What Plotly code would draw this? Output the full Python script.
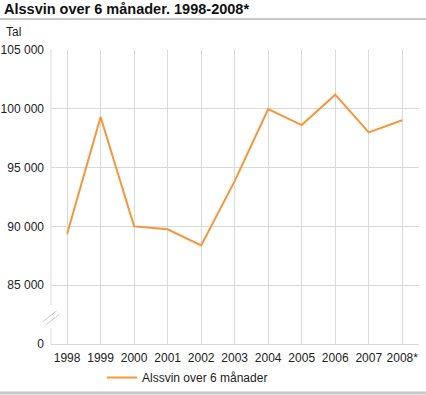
import plotly.graph_objects as go

years = ["1998", "1999", "2000", "2001", "2002", "2003", "2004", "2005", "2006", "2007", "2008*"]
values = [89350, 99300, 90000, 89750, 88380, 93850, 99980, 98620, 101200, 98000, 99030]
series_name = "Alssvin over 6 månader"
ytick_vals = [80000, 85000, 90000, 95000, 100000, 105000]
ytick_text = ["0", "85 000", "90 000", "95 000", "100 000", "105 000"]

W, H = 426, 395
L, R, T, B = 51, 419, 50, 344

def px(x):
    return (x - L) / (R - L)

def py(y):
    return (B - y) / (B - T)

grid = "#d9d9d9"
font = "Liberation Sans, Arial, sans-serif"

fig = go.Figure()
fig.add_trace(go.Scatter(
    x=list(range(len(years))), y=values, mode="lines", name=series_name,
    line=dict(color="#f7953b", width=2), showlegend=True,
))

shapes = [
    dict(type="line", xref="paper", yref="paper", x0=px(0), x1=px(426), y0=py(19), y1=py(19),
         line=dict(color="#c8c8c8", width=2)),
    dict(type="line", xref="paper", yref="paper", x0=px(0), x1=px(426), y0=py(393), y1=py(393),
         line=dict(color="#c8c8c8", width=3)),
    dict(type="line", xref="paper", yref="paper", x0=0, x1=0, y0=py(344), y1=py(328),
         line=dict(color=grid, width=1)),
    dict(type="line", xref="paper", yref="paper", x0=0, x1=0, y0=py(305), y1=py(50),
         line=dict(color=grid, width=1)),
    dict(type="line", xref="paper", yref="paper", x0=px(43), x1=px(56.5), y0=py(321.5), y1=py(311),
         line=dict(color="#c8c8c8", width=1)),
    dict(type="line", xref="paper", yref="paper", x0=px(45.5), x1=px(59), y0=py(325), y1=py(314.5),
         line=dict(color="#c8c8c8", width=1)),
]

fig.update_layout(
    width=W, height=H,
    margin=dict(l=L, r=W - R, t=T, b=H - B, pad=0, autoexpand=False),
    paper_bgcolor="white", plot_bgcolor="white",
    font=dict(family=font, size=12, color="#222"),
    showlegend=True,
    legend=dict(orientation="h", x=px(102), y=py(363), xanchor="left", yanchor="top",
                font=dict(size=12, color="#222"), bgcolor="rgba(0,0,0,0)"),
    shapes=shapes,
    annotations=[
        dict(text="<b>Alssvin over 6 månader. 1998-2008*</b>", xref="paper", yref="paper",
             x=px(2), y=py(9), xanchor="left", yanchor="middle", showarrow=False,
             font=dict(size=14.5, color="#111")),
        dict(text="Tal", xref="paper", yref="paper", x=px(4), y=py(32), xanchor="left",
             yanchor="middle", showarrow=False, font=dict(size=12, color="#222")),
    ],
    xaxis=dict(
        tickmode="array", tickvals=list(range(len(years))), ticktext=years,
        range=[-0.48, 10.5], showgrid=True, gridcolor=grid, gridwidth=1,
        showline=True, linecolor=grid, linewidth=1, zeroline=False,
        ticks="", ticklabelstandoff=3, tickfont=dict(size=12, color="#222"), fixedrange=True,
        automargin=False,
    ),
    yaxis=dict(
        tickmode="array", tickvals=ytick_vals, ticktext=ytick_text,
        range=[80000, 105000], showgrid=True, gridcolor=grid, gridwidth=1,
        showline=False, zeroline=False, ticks="", ticklabelstandoff=6,
        tickfont=dict(size=12, color="#222"), fixedrange=True,
        automargin=False,
    ),
)

fig.write_html("out.html", config={"displayModeBar": False},
               post_script="document.body.style.margin='0';")
